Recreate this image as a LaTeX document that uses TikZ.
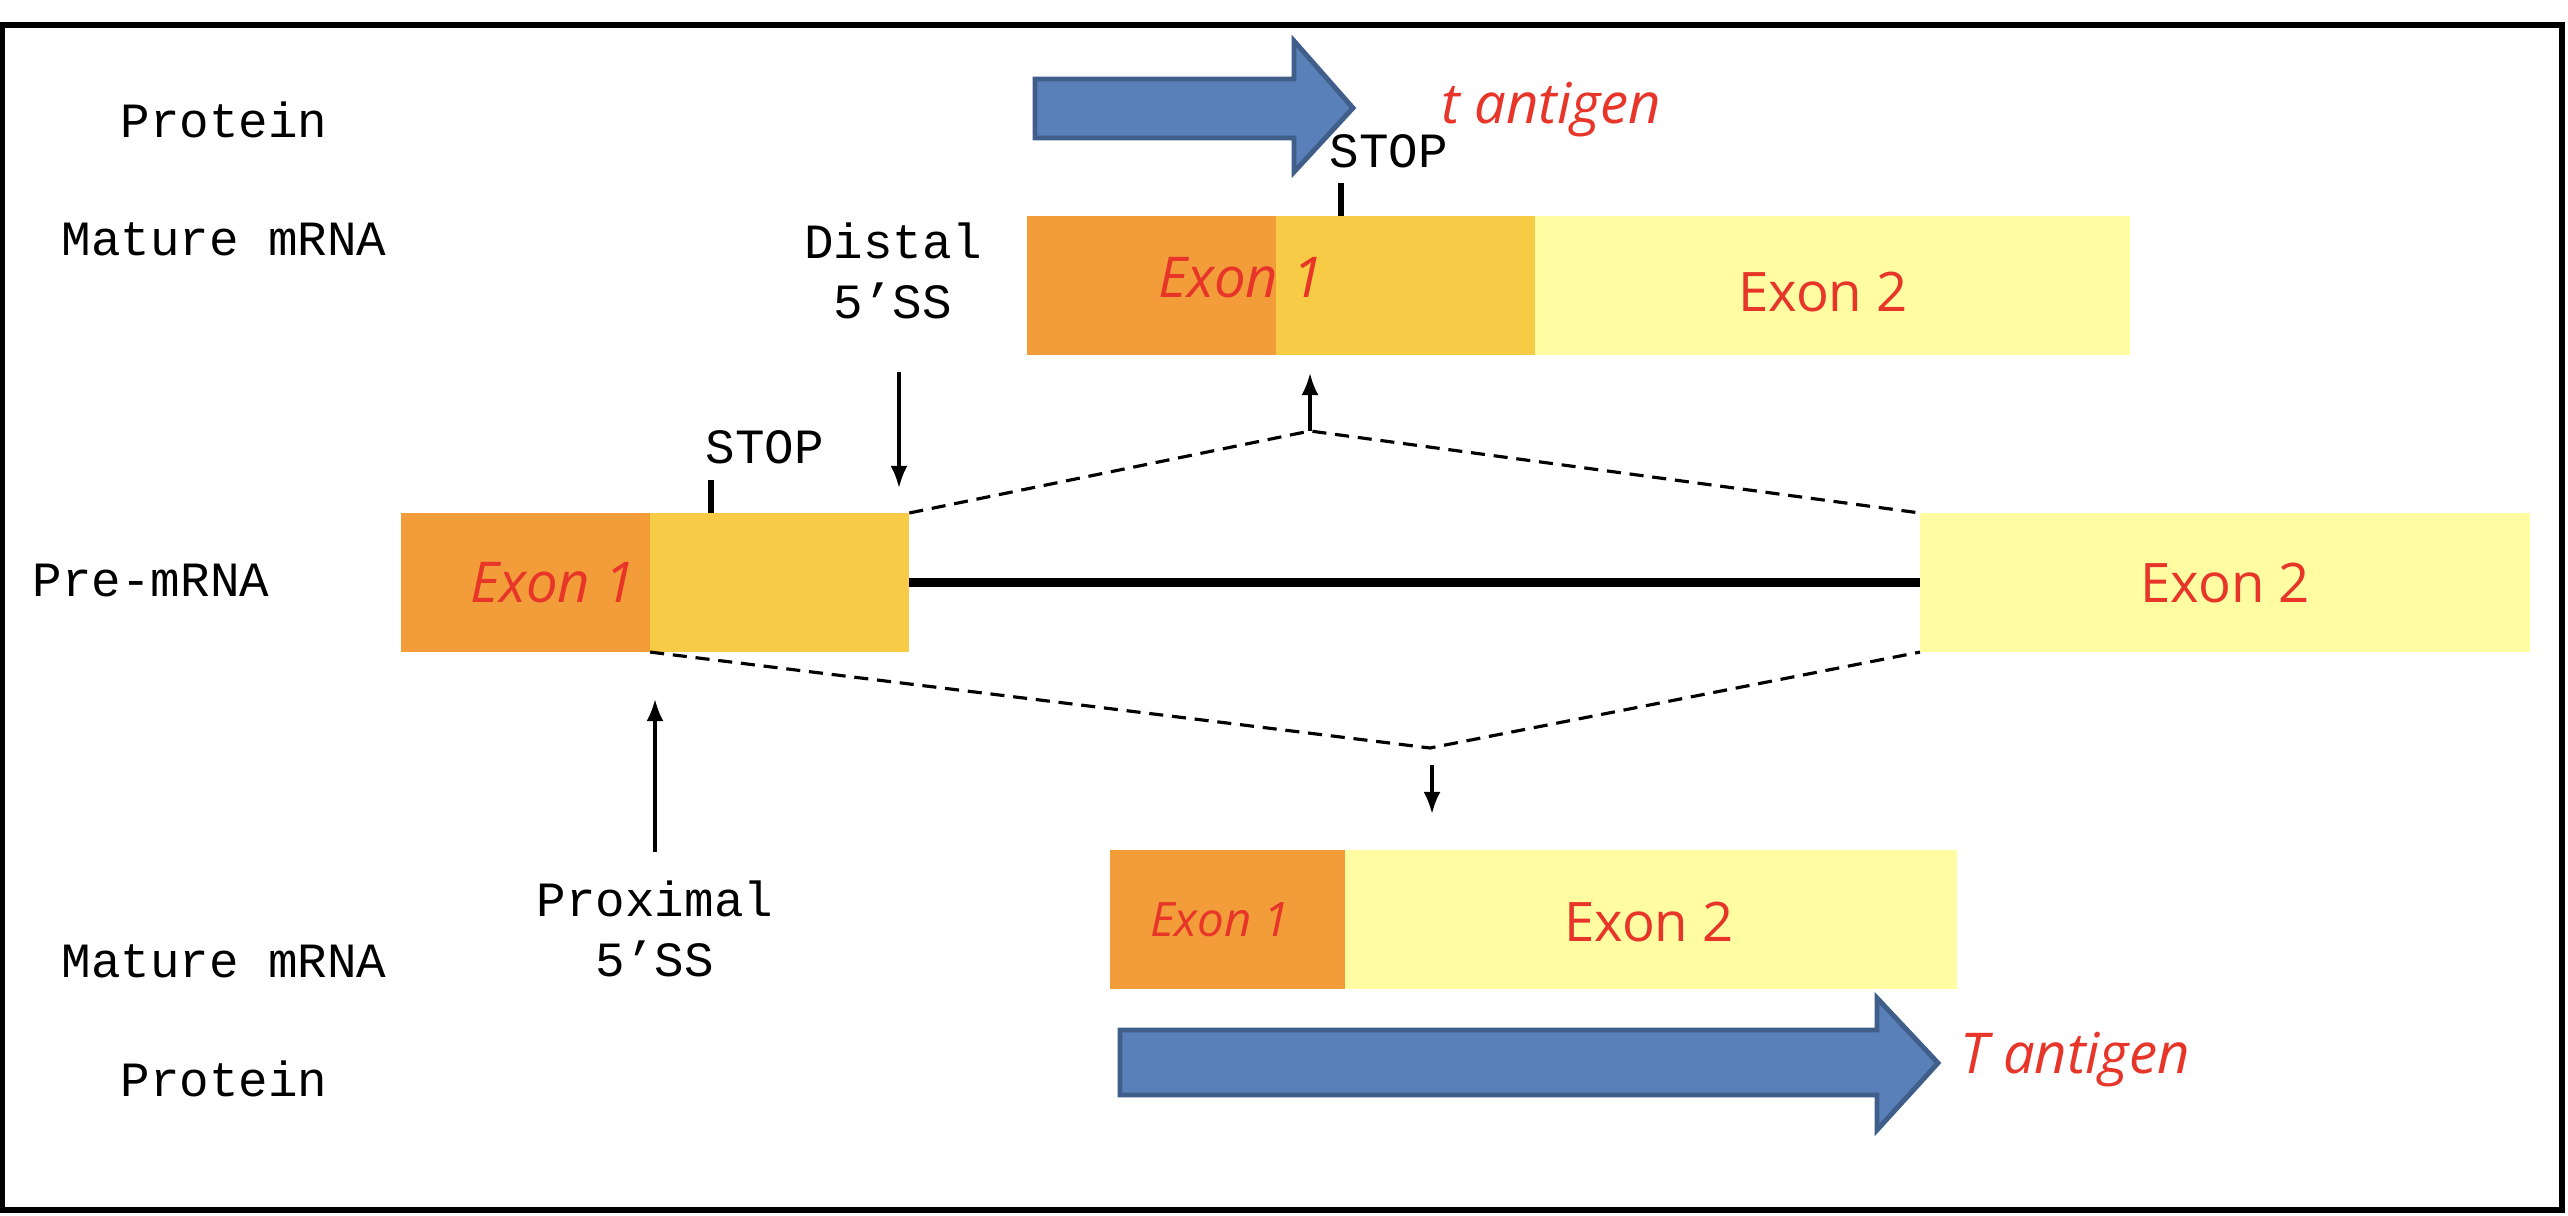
\documentclass[tikz,border=0pt]{standalone}
\usepackage{fontspec}
\setmainfont{Liberation Mono}
\newfontfamily\exonfont{Open Sans}
\usepackage{xcolor}
\usetikzlibrary{arrows.meta, positioning, calc}
\definecolor{exonorange}{RGB}{242,157,58}
\definecolor{exongold}{RGB}{247,203,69}
\definecolor{exonpale}{RGB}{255,252,162}
\definecolor{protfill}{RGB}{90,128,185}
\definecolor{protedge}{RGB}{63,94,138}
\definecolor{exonred}{RGB}{232,53,42}
\begin{document}
\begin{tikzpicture}[x=0.01cm, y=-0.01cm,
    rowlabel/.style={font=\fontsize{14}{17}\selectfont, inner sep=0, align=center},
    block/.style={anchor=north west, minimum height=1.39cm, inner sep=0, outer sep=0},
    exontext/.style={font=\exonfont\fontsize{15.5}{18}\selectfont, text=exonred, inner sep=0},
    exonitalic/.style={font=\exonfont\itshape\fontsize{16}{18}\selectfont, text=exonred, inner sep=0},
    splice/.style={line width=0.9pt, dash pattern=on 4pt off 2.5pt},
    pointer/.style={-{Latex[length=0.22cm, width=0.17cm]}, line width=1pt},
    stoptick/.style={line width=1.6pt},
    protarrow/.style={fill=protfill, draw=protedge, line width=1.4pt, line join=miter}
]
\useasboundingbox (0,0) rectangle (2568,1216);
\draw[line width=1.6pt] (2,25) rectangle (2562,1210);

\node[rowlabel] (protTop) at (224,120) {Protein};
\node[rowlabel] (matureTop) at (224,239) {Mature mRNA};
\node[rowlabel] (pre) at (151,581) {Pre-mRNA};
\node[rowlabel] (matureBot) at (224,961) {Mature mRNA};
\node[rowlabel] (protBot) at (224,1079) {Protein};

% pre-mRNA
\node[block, fill=exonorange, minimum width=2.49cm] (pre1a) at (401,513) {};
\node[block, fill=exongold, minimum width=2.59cm, right=0pt of pre1a] (pre1b) {};
\node[block, fill=exonpale, minimum width=6.10cm] (pre2) at (1920,513) {};
\node[exonitalic] at (553,583) {Exon 1};
\node[exontext] at (pre2.center) {Exon 2};
\draw[line width=2.3pt] (pre1b.east) -- (pre2.west);

% upper mature mRNA
\node[block, fill=exonorange, minimum width=2.49cm] (top1a) at (1027,216) {};
\node[block, fill=exongold, minimum width=2.59cm, right=0pt of top1a] (top1b) {};
\node[block, fill=exonpale, minimum width=5.94cm, right=0pt of top1b] (top2) {};
\node[exonitalic] at (1241,278) {Exon 1};
\node[exontext] at (1823,292) {Exon 2};

% lower mature mRNA
\node[block, fill=exonorange, minimum width=2.35cm] (bot1) at (1110,850) {};
\node[block, fill=exonpale, minimum width=6.11cm, right=0pt of bot1] (bot2) {};
\node[exonitalic, font=\exonfont\itshape\fontsize{13.5}{16}\selectfont] at (1220,920) {Exon 1};
\node[exontext] at (1649,922) {Exon 2};

% stop codons
\node[rowlabel] (stopPre) at (765,447) {STOP};
\node[rowlabel] (stopTop) at (1389,151) {STOP};
\draw[stoptick] (711,480) -- (711,513);
\draw[stoptick] (1341,183) -- (1341,216);

% splice sites
\node[rowlabel] (distal) at (893,271) {Distal\\5’SS};
\node[rowlabel] (proximal) at (655,929) {Proximal\\5’SS};
\draw[pointer] (899,372) -- (899,488);
\draw[pointer] (655,852) -- (655,699);

\coordinate (splitTop) at (1310,431);
\coordinate (splitBot) at (1430,748);
\draw[splice] (pre1b.north east) -- (splitTop) -- (pre2.north west);
\draw[splice] (pre1a.south east) -- (splitBot) -- (pre2.south west);
\draw[pointer] (splitTop) -- (1310,373);
\draw[pointer] (1432,765) -- (1432,814);

% proteins
\draw[protarrow] (1035,79) -- (1294,79) -- (1294,41) -- (1353,108) -- (1294,172) -- (1294,138) -- (1035,138) -- cycle;
\draw[protarrow] (1120,1030) -- (1877,1030) -- (1877,998) -- (1938,1063) -- (1877,1130) -- (1877,1095) -- (1120,1095) -- cycle;
\node[exonitalic] (smallT) at (1551,110) {t antigen};
\node[exonitalic] (largeT) at (2075,1060) {T antigen};
\end{tikzpicture}
\end{document}
